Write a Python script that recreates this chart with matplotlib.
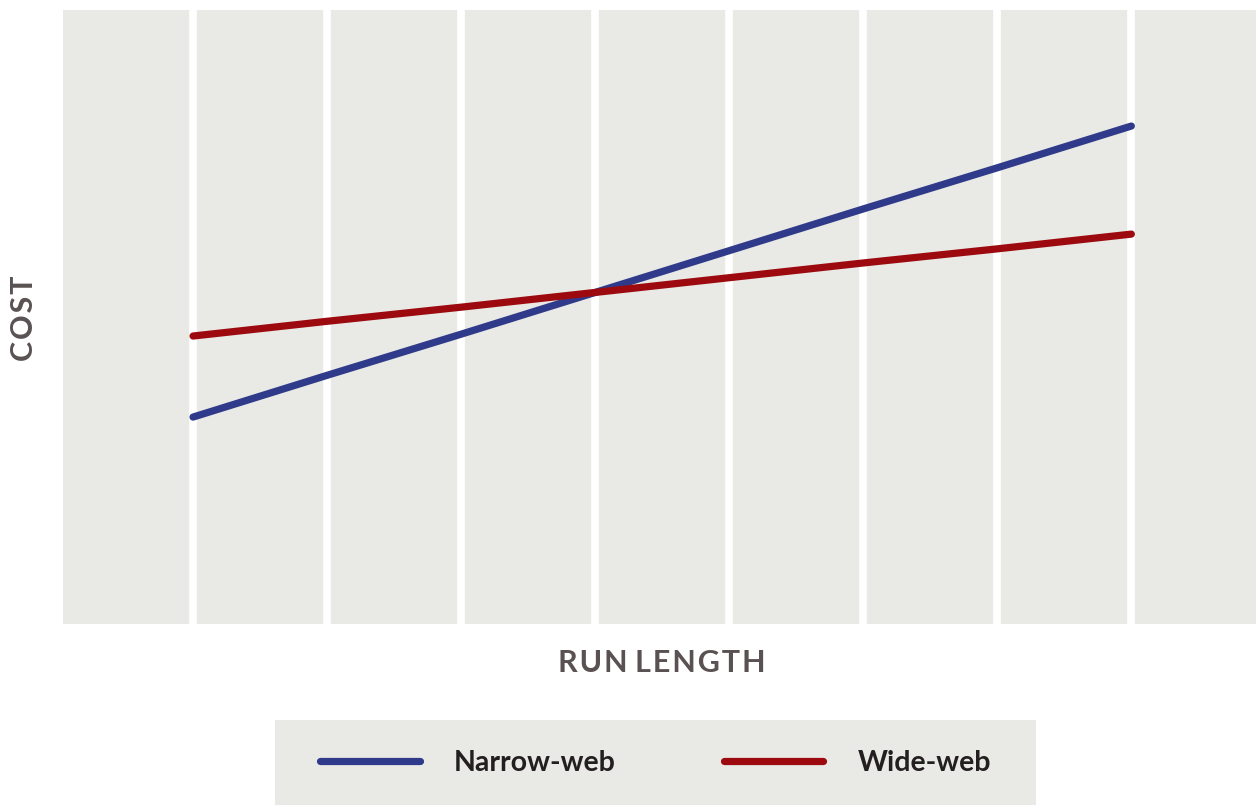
import matplotlib.pyplot as plt
from matplotlib.lines import Line2D

# run length positions (categorical steps) and cost values
run_length = [1, 2, 3, 4, 5, 6, 7, 8]
narrow_web = [3.37, 4.05, 4.72, 5.40, 6.08, 6.76, 7.43, 8.11]
wide_web = [4.69, 4.93, 5.16, 5.40, 5.64, 5.88, 6.11, 6.35]
series_names = ["Narrow-web", "Wide-web"]

BG = "#e9e9e5"
BLUE = "#2f3b8a"
RED = "#9c0a10"
LABEL = "#5a5252"
TEXT = "#231f20"

plt.rcParams["font.family"] = ["Lato", "DejaVu Sans"]

fig = plt.figure(figsize=(12.56, 8.05), dpi=100)
W, H = 1256, 805

# main plot area
ax = fig.add_axes([63 / W, (H - 624) / H, 1 - 63 / W, (624 - 10) / H])
ax.set_facecolor(BG)
for s in ax.spines.values():
    s.set_visible(False)

ax.plot(run_length, narrow_web, color=BLUE, lw=5.2, solid_capstyle="round", zorder=3)
ax.plot(run_length, wide_web, color=RED, lw=5.2, solid_capstyle="round", zorder=4)

ax.set_xlim(0.03, 8.93)
ax.set_ylim(0, 10)
ax.set_xticks(run_length)
ax.set_yticks([])
ax.tick_params(axis="x", length=0, labelbottom=False)
ax.grid(axis="x", color="white", lw=5.5)
ax.set_axisbelow(True)


def spaced(s):
    # the axis titles are letter-spaced in the original
    return " ".join("\u200a".join(w) for w in s.split(" "))


fig.text(662 / W, 1 - 663 / H, spaced("RUN LENGTH"),
         ha="center", va="center", fontsize=22, fontweight="bold", color=LABEL)
fig.text(24 / W, 1 - 318 / H, spaced("COST"),
         ha="center", va="center", rotation=90,
         fontsize=22, fontweight="bold", color=LABEL)

# legend panel
lax = fig.add_axes([275 / W, 0, (1036 - 275) / W, (H - 720) / H])
lax.set_facecolor(BG)
lax.set_xticks([])
lax.set_yticks([])
for s in lax.spines.values():
    s.set_visible(False)

handles = [Line2D([], [], color=BLUE, lw=5.2, solid_capstyle="round"),
           Line2D([], [], color=RED, lw=5.2, solid_capstyle="round")]
leg = lax.legend(handles, series_names, loc="center", ncol=2, frameon=False,
                 handlelength=3.5, handletextpad=1.2, columnspacing=3.8,
                 prop={"size": 20.5, "weight": "bold"})
for t in leg.get_texts():
    t.set_color(TEXT)

fig.savefig("out.png", dpi=100)
